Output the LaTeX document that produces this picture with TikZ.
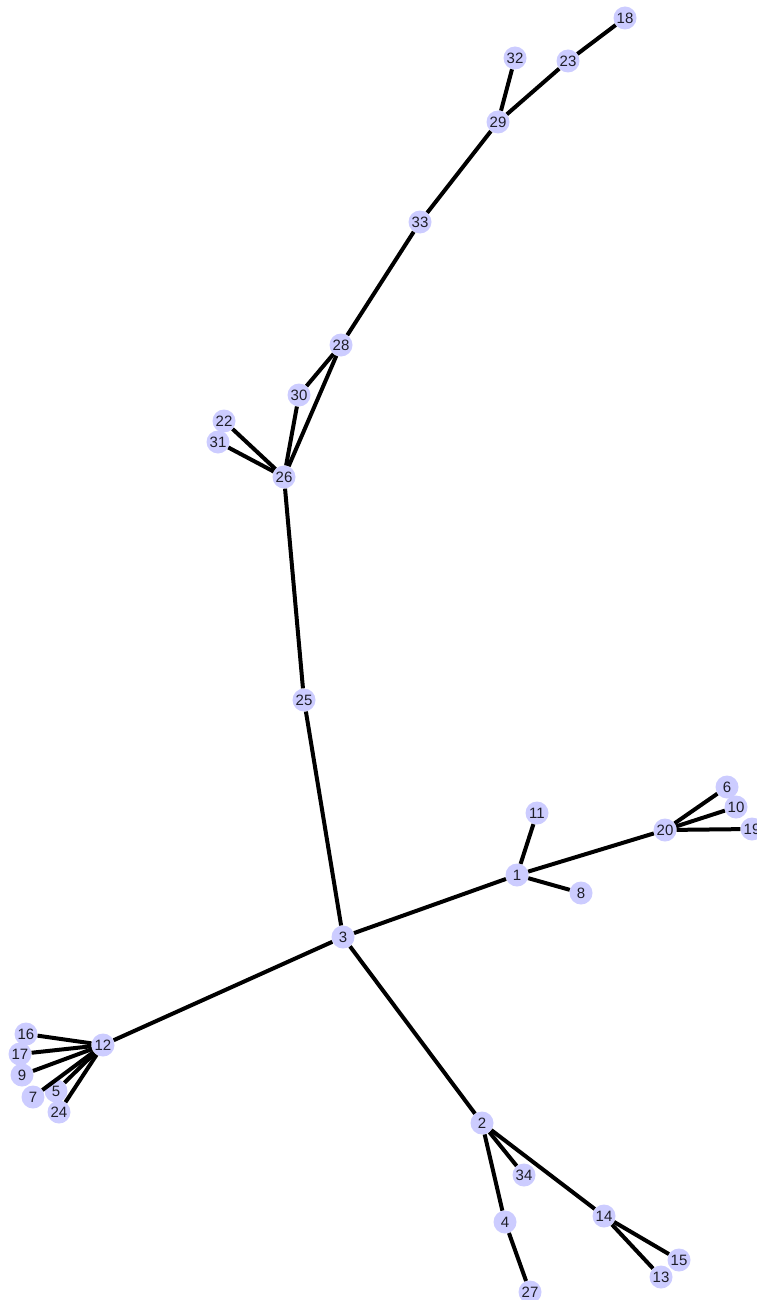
\documentclass[tikz,border=0pt]{standalone}
\usepackage{fontspec}
\setmainfont{Liberation Sans}
\usepackage{xcolor}
\usepackage{tikz}
\definecolor{vertexlav}{RGB}{204, 204, 255}
\definecolor{labelgrey}{RGB}{30, 30, 40}

\begin{document}
\begin{tikzpicture}[x=1pt, y=-1pt,
    vtx/.style={circle, fill=vertexlav, text=labelgrey, inner sep=0pt,
                minimum size=23pt, font=\fontsize{15}{15}\selectfont},
    edge/.style={black, line width=4pt}]

    % canvas
    \useasboundingbox (0,0) rectangle (756,1300);

    % VERTICES
    \foreach \n/\x/\y in {18/625/18, 23/568/61, 32/515/58, 29/498/122,
                          33/420/222, 28/341/345, 30/299/395, 22/224/421,
                          31/218/442, 26/284/477, 25/304/700, 3/343/937,
                          1/517/875, 11/537/813, 8/581/893, 20/665/830,
                          6/727/787, 10/736/807, 19/752/829,
                          12/103/1045, 16/26/1034, 17/20/1054, 9/22/1075,
                          7/33/1097, 5/56/1091, 24/59/1112,
                          2/482/1123, 34/524/1175, 4/505/1222, 27/530/1292,
                          14/604/1216, 15/679/1260, 13/661/1277}
        \node[vtx] (v\n) at (\x,\y) {\n};

    % EDGES
    \foreach \a/\b in {18/23, 23/29, 32/29, 29/33, 33/28, 28/30, 28/26,
                       30/26, 22/26, 31/26, 26/25, 25/3,
                       3/1, 1/11, 1/8, 1/20, 20/6, 20/10, 20/19,
                       3/12, 12/16, 12/17, 12/9, 12/7, 12/5, 12/24,
                       3/2, 2/34, 2/4, 4/27, 2/14, 14/15, 14/13}
        \draw[edge] (v\a) -- (v\b);

\end{tikzpicture}
\end{document}
